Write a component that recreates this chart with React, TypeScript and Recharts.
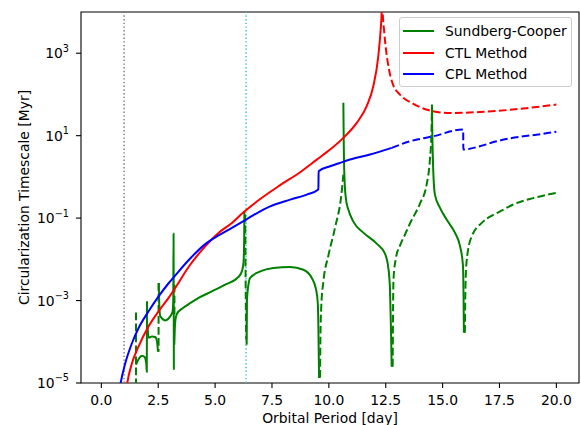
import React from 'react';
import { LineChart, Line, XAxis, YAxis, ReferenceLine, ReferenceArea } from 'recharts';

type Pt = [number, number];

// axis ticks
const periodTicks = [0, 2.5, 5, 7.5, 10, 12.5, 15, 17.5, 20];
const timescaleTicks = [1e-5, 1e-3, 1e-1, 1e1, 1e3];
const seriesNames = ['Sundberg-Cooper', 'CTL Method', 'CPL Method'];
const markerPeriods = [1.0, 6.36];

// Sundberg-Cooper, solid pieces (period [day], timescale [Myr])
const sundbergSolid: Pt[][] = [
  [[1.523, 2.78e-5], [1.646, 3.89e-5], [1.787, 4.6e-5], [1.901, 4.28e-5], [1.975, 2.94e-5], [1.997, 1.88e-5], [2.006, 9.6e-4]],
  [[2.028, 2.6e-4], [2.076, 1.26e-4], [2.226, 1.35e-4], [2.371, 1.31e-4], [2.445, 1.02e-4], [2.489, 5.75e-5]],
  [[2.524, 2.67e-3], [2.546, 7.9e-4], [2.59, 4.14e-4], [2.81, 3.3e-4], [3.029, 4.14e-4], [3.13, 5.47e-4], [3.161, 1.05e-3], [3.174, 4.2e-2], [3.187, 2.1e-5]],
  [[3.205, 8.5e-5], [3.227, 1.97e-4], [3.257, 3.44e-4], [3.323, 4.8e-4], [3.543, 6.35e-4], [3.687, 7.2e-4], [4.271, 1.16e-3], [4.86, 1.67e-3], [5.443, 2.43e-3], [6.027, 3.74e-3], [6.176, 5.1e-3], [6.247, 8.2e-3], [6.277, 3.0e-2], [6.286, 0.144]],
  [[6.387, 8.5e-5], [6.4, 1.05e-3], [6.466, 2.43e-3], [6.541, 3.54e-3], [6.98, 5.1e-3], [7.564, 6.2e-3], [8.297, 6.55e-3], [8.881, 5.6e-3], [9.249, 3.54e-3], [9.438, 1.84e-3], [9.513, 8.75e-4], [9.539, 2.37e-4], [9.57, 1.32e-5]],
  [[10.637, 62.5], [10.658, 4.6], [10.689, 0.86], [10.755, 0.281], [10.856, 0.161], [11.076, 8.2e-2], [11.515, 4.45e-2], [12.103, 2.4e-2], [12.467, 1.37e-2], [12.612, 6.3e-3], [12.687, 1.84e-3], [12.731, 1.97e-4], [12.761, 2.49e-5]],
  [[14.53, 56.9], [14.552, 8.0], [14.587, 1.5], [14.662, 0.372], [14.881, 0.18], [15.176, 9.2e-2], [15.54, 4.45e-2], [15.76, 2.15e-2], [15.892, 7.4e-3], [15.922, 1.05e-3], [15.935, 1.66e-4]],
];

// Sundberg-Cooper, dashed pieces
const sundbergDashed: Pt[][] = [
  [[1.523, 5.1e-4], [1.523, 9e-6]],
  [[2.515, 2.67e-3], [2.515, 5.75e-5]],
  [[3.213, 2.43e-3], [3.213, 3.08e-4]],
  [[6.321, 0.122], [6.348, 1.05e-3], [6.365, 1.12e-4]],
  [[9.614, 1.35e-5], [9.627, 1.12e-4], [9.666, 7.2e-4], [9.759, 2.88e-3], [9.978, 1.23e-2], [10.272, 5.9e-2], [10.566, 0.44], [10.637, 1.14]],
  [[12.805, 2.49e-5], [12.818, 3.44e-4], [12.84, 3.21e-3], [12.95, 1.1e-2], [13.126, 2.15e-2], [13.345, 3.98e-2], [13.565, 7.4e-2], [14.004, 0.225], [14.298, 0.65], [14.442, 2.63], [14.508, 10.6], [14.53, 48]],
  [[15.979, 1.66e-4], [16.001, 1.84e-3], [16.054, 8.8e-3], [16.273, 3.56e-2], [16.783, 8.2e-2], [17.515, 0.144], [18.248, 0.231], [18.977, 0.305], [20.0, 0.41]],
];

const ctlSolid: Pt[] = [
  [1.1, 7e-6], [1.128, 9.1e-6], [1.348, 3.05e-5], [1.637, 7.7e-5], [2.076, 2.37e-4], [2.515, 5.5e-4], [2.954, 1.16e-3],
  [3.323, 2.35e-3], [3.832, 6.5e-3], [4.565, 2.07e-2], [5.149, 4.37e-2], [5.738, 7.6e-2], [6.247, 0.138], [6.98, 0.29],
  [7.858, 0.63], [8.736, 1.3], [9.469, 2.63], [10.053, 4.6], [10.637, 8.85], [11.225, 20.5], [11.664, 51.8],
  [11.953, 158], [12.173, 845], [12.278, 3760], [12.322, 9570], [12.35, 3e4],
];

const ctlDashed: Pt[] = [
  [12.36, 3e4], [12.366, 1.03e4], [12.423, 3760], [12.511, 1230], [12.643, 402], [12.818, 174], [13.126, 99.5],
  [13.696, 60], [14.442, 40.6], [15.32, 35.4], [16.637, 37.4], [18.086, 43], [20.0, 56.9],
];

const cplSolid: Pt[] = [
  [0.8, 7e-6], [0.834, 9.1e-6], [1.054, 3.05e-5], [1.348, 9.35e-5], [1.637, 2.16e-4], [2.076, 5.5e-4], [2.515, 1.26e-3],
  [2.954, 2.63e-3], [3.248, 4.07e-3], [3.832, 9.5e-3], [4.565, 2.34e-2], [5.149, 3.8e-2], [5.738, 5.8e-2], [6.247, 8.4e-2],
  [6.686, 0.118], [7.419, 0.193], [8.297, 0.281], [9.03, 0.372], [9.539, 0.492], [9.55, 1.37], [10.053, 1.81],
  [10.492, 2.19], [10.931, 2.63], [11.809, 3.48], [12.761, 5.06],
];

const cplDashed: Pt[] = [
  [12.761, 5.06], [13.565, 7.3], [14.587, 9.66], [15.904, 14.1], [15.91, 4.6], [16.637, 5.53], [17.37, 7.3], [19.855, 12.1], [20.0, 12.5],
];

const GREEN = '#008000';
const RED = '#ff0000';
const BLUE = '#0000ff';
const FONT = 'DejaVu Sans, sans-serif';
const FS = 13.9;

const toRows = (pts: Pt[]) => pts.map(([x, y]) => ({ x, y }));

// smooth unless the piece is a vertical stroke (repeated x)
const isVertical = (pts: Pt[]) => pts.some((p, i) => i > 0 && p[0] === pts[i - 1][0]);

function curve(pts: Pt[], color: string, dashed: boolean, key: string) {
  return (
    <Line
      key={key}
      data={toRows(pts)}
      dataKey="y"
      type={isVertical(pts) ? 'linear' : 'monotoneX'}
      stroke={color}
      strokeWidth={2}
      strokeDasharray={dashed ? '7.7 3.3' : undefined}
      dot={false}
      activeDot={false}
      legendType="none"
      isAnimationActive={false}
    />
  );
}

function LogTick(props: any) {
  const { x, y, payload } = props;
  const exp = Math.round(Math.log10(payload.value));
  const expText = exp < 0 ? '\u2212' + Math.abs(exp) : String(exp);
  return (
    <text x={x} y={y + 5} textAnchor="end" fill="#000" fontFamily={FONT} fontSize={FS}>
      <tspan>10</tspan>
      <tspan dy={-6.6} fontSize={9.7}>{expText}</tspan>
    </text>
  );
}

function YLabel(props: any) {
  const vb = props.viewBox || { x: 0, y: 12, width: 81, height: 371 };
  const x = vb.x + 28.5;
  const y = vb.y + vb.height / 2;
  return (
    <text x={x} y={y} transform={`rotate(-90, ${x}, ${y})`} textAnchor="middle" fill="#000" fontFamily={FONT} fontSize={FS}>
      Circularization Timescale [Myr]
    </text>
  );
}

function XLabel(props: any) {
  const vb = props.viewBox || { x: 81, y: 383, width: 498, height: 42 };
  return (
    <text x={vb.x + vb.width / 2} y={vb.y + 40} textAnchor="middle" fill="#000" fontFamily={FONT} fontSize={FS}>
      Orbital Period [day]
    </text>
  );
}

const legendColors = [GREEN, RED, BLUE];

export default function App() {
  return (
    <div style={{ position: 'absolute', left: 0, top: 0, width: 581, height: 425, background: '#fff', fontFamily: FONT }}>
      <LineChart width={581} height={425} margin={{ top: 12, right: 2, bottom: 0, left: 0 }}>
        <XAxis
          dataKey="x"
          type="number"
          domain={[-0.895, 20.995]}
          allowDataOverflow
          ticks={periodTicks}
          tickFormatter={(v: number) => v.toFixed(1)}
          height={42}
          axisLine={false}
          tickLine={{ stroke: '#000', strokeWidth: 1.1 }}
          tickSize={5}
          tickMargin={7}
          tick={{ fill: '#000', fontSize: FS, fontFamily: FONT }}
          label={<XLabel />}
        />
        <YAxis
          type="number"
          scale="log"
          domain={[1e-5, 1e4]}
          allowDataOverflow
          ticks={timescaleTicks}
          width={81}
          axisLine={false}
          tickLine={{ stroke: '#000', strokeWidth: 1.1 }}
          tickSize={5}
          tickMargin={7}
          tick={<LogTick />}
          label={<YLabel />}
        />
        {markerPeriods.map((p, i) => (
          <ReferenceLine
            key={'m' + i}
            x={p}
            stroke={i === 0 ? '#808080' : '#40c8c8'}
            strokeWidth={1.5}
            strokeDasharray="1.4 2.3"
          />
        ))}
        {sundbergSolid.map((s, i) => curve(s, GREEN, false, 'gs' + i))}
        {sundbergDashed.map((s, i) => curve(s, GREEN, true, 'gd' + i))}
        {curve(ctlSolid, RED, false, 'rs')}
        {curve(ctlDashed, RED, true, 'rd')}
        {curve(cplSolid, BLUE, false, 'bs')}
        {curve(cplDashed, BLUE, true, 'bd')}
        <ReferenceArea x1={-0.895} x2={20.995} y1={1e-5} y2={1e4} fill="none" stroke="#000" strokeWidth={1.1} />
      </LineChart>
      <div
        style={{
          position: 'absolute',
          left: 399,
          top: 17,
          width: 173,
          height: 70,
          boxSizing: 'border-box',
          border: '1px solid #cccccc',
          borderRadius: 3,
          background: 'rgba(255,255,255,0.8)',
        }}
      >
        {seriesNames.map((name, i) => (
          <div
            key={name}
            style={{ position: 'absolute', left: 0, top: 2.3 + 21.2 * i, height: 22, display: 'flex', alignItems: 'center' }}
          >
            <div style={{ marginLeft: 3.3, width: 31, height: 2, background: legendColors[i] }} />
            <span style={{ marginLeft: 10.7, fontSize: FS, color: '#000', fontFamily: FONT, whiteSpace: 'nowrap', lineHeight: '22px' }}>
              {name}
            </span>
          </div>
        ))}
      </div>
    </div>
  );
}
